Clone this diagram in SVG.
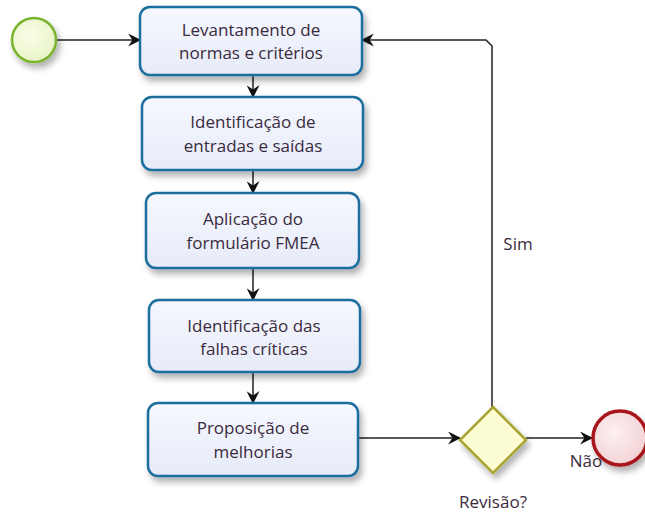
<svg xmlns="http://www.w3.org/2000/svg" width="645" height="512" viewBox="0 0 645 512">
<defs>
<filter id="sh" x="-20%" y="-20%" width="150%" height="160%">
<feDropShadow dx="3" dy="5" stdDeviation="3" flood-color="#000" flood-opacity="0.3"/>
</filter>
<linearGradient id="bg" x1="0" y1="0" x2="0" y2="1">
<stop offset="0" stop-color="#f6f8fe"/>
<stop offset="1" stop-color="#e6ebf8"/>
</linearGradient>
<radialGradient id="gs" cx="0.4" cy="0.4" r="0.7">
<stop offset="0" stop-color="#fafde8"/>
<stop offset="1" stop-color="#e6f3c2"/>
</radialGradient>
<radialGradient id="ge" cx="0.4" cy="0.4" r="0.7">
<stop offset="0" stop-color="#fdf0f0"/>
<stop offset="1" stop-color="#f1cfd2"/>
</radialGradient>
<marker id="ar" viewBox="0 0 12 12" refX="11" refY="6" markerWidth="13" markerHeight="13" markerUnits="userSpaceOnUse" orient="auto">
<path d="M0,0 L12,6 L0,12 L4,6 Z" fill="#111"/>
</marker>
<style>
.box{fill:url(#bg);stroke:#1e6e9e;stroke-width:2.5;filter:url(#sh)}
.t{font-family:"Open Sans","Noto Sans",sans-serif;font-size:17px;fill:#3a2a3e;text-anchor:middle}
.c{fill:none;stroke:#222;stroke-width:1.5;marker-end:url(#ar)}
</style>
</defs>
<g id="connectors">
<path class="c" d="M56,40 L140,40"/>
<path class="c" d="M253,75 L253,97"/>
<path class="c" d="M253,170 L253,193"/>
<path class="c" d="M253,268 L253,300"/>
<path class="c" d="M253,372 L253,403"/>
<path class="c" d="M358,438 L460,438"/>
<path class="c" d="M526,438 L592,438"/>
<path class="c" d="M492,407 L492,46 L486,40 L362,40"/>
<text class="t" x="518" y="250">Sim</text>
<text class="t" x="586" y="467">Não</text>
</g>
<g id="start">
<circle cx="34" cy="40" r="22" fill="url(#gs)" stroke="#7ab32e" stroke-width="2.5" filter="url(#sh)"/>
</g>
<g id="n1">
<rect class="box" x="140" y="7" width="222" height="68" rx="10"/>
<text class="t" x="251" y="36">Levantamento de</text>
<text class="t" x="251" y="59">normas e critérios</text>
</g>
<g id="n2">
<rect class="box" x="142" y="97" width="221" height="73" rx="10"/>
<text class="t" x="253" y="128">Identificação de</text>
<text class="t" x="253" y="152">entradas e saídas</text>
</g>
<g id="n3">
<rect class="box" x="146" y="193" width="213" height="75" rx="10"/>
<text class="t" x="253" y="225">Aplicação do</text>
<text class="t" x="253" y="249">formulário FMEA</text>
</g>
<g id="n4">
<rect class="box" x="149" y="300" width="211" height="72" rx="10"/>
<text class="t" x="254" y="332">Identificação das</text>
<text class="t" x="254" y="355">falhas críticas</text>
</g>
<g id="n5">
<rect class="box" x="148" y="403" width="210" height="73" rx="10"/>
<text class="t" x="253" y="434">Proposição de</text>
<text class="t" x="253" y="458">melhorias</text>
</g>
<g id="gateway">
<path d="M493,407 L526,440 L493,473 L460,440 Z" fill="#fdfdd4" stroke="#a9a532" stroke-width="2.5" filter="url(#sh)"/>
<text class="t" x="493" y="508">Revisão?</text>
</g>
<g id="end">
<circle cx="620" cy="438" r="27" fill="url(#ge)" stroke="#a8161b" stroke-width="3.5" filter="url(#sh)"/>
</g>
</svg>
